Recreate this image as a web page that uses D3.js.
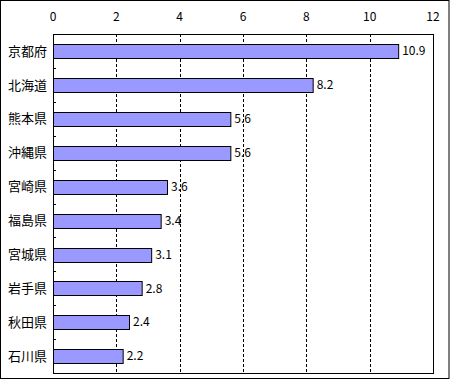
<!DOCTYPE html>
<html lang="ja">
<head>
  <meta charset="UTF-8">
  <title>都道府県別</title>
  <script src="https://d3js.org/d3.v7.min.js"></script>
  <style>
    body { margin: 0; background: white; }
    svg text { font-family: "Noto Sans CJK JP", sans-serif; font-size: 12px; fill: black; }
    svg text.cat { font-size: 13px; }
  </style>
</head>
<body>
  <svg id="chart" width="450" height="379"></svg>
  <script>
    const prefectures = ["京都府", "北海道", "熊本県", "沖縄県", "宮崎県", "福島県", "宮城県", "岩手県", "秋田県", "石川県"];
    const values = [10.9, 8.2, 5.6, 5.6, 3.6, 3.4, 3.1, 2.8, 2.4, 2.2];
    const xTicks = [0, 2, 4, 6, 8, 10, 12];

    const data = prefectures.map((p, i) => ({ name: p, value: values[i] }));

    const svg = d3.select("#chart");
    const width = +svg.attr("width");
    const height = +svg.attr("height");
    const margin = { top: 34, right: 16, bottom: 6, left: 53 };

    // outer frame
    svg.append("rect")
      .attr("x", 0.5).attr("y", 0.5)
      .attr("width", width - 1.5).attr("height", height - 1)
      .attr("fill", "white").attr("stroke", "black");

    const x = d3.scaleLinear()
      .domain([0, 12])
      .range([margin.left, width - margin.right - 1]);

    const y = d3.scaleBand()
      .domain(prefectures)
      .range([margin.top, height - margin.bottom])
      .paddingInner(0.6)
      .paddingOuter(0.3);

    const band = d3.scaleBand()
      .domain(prefectures)
      .range([margin.top, height - margin.bottom]);

    // dashed grid lines
    svg.append("g")
      .selectAll("line")
      .data(xTicks.filter(t => t > 0 && t < 12))
      .enter().append("line")
      .attr("x1", d => Math.round(x(d)) + 0.5)
      .attr("x2", d => Math.round(x(d)) + 0.5)
      .attr("y1", margin.top)
      .attr("y2", height - margin.bottom)
      .attr("stroke", "black")
      .attr("stroke-dasharray", "3,2");

    // top axis labels
    svg.append("g")
      .selectAll("text")
      .data(xTicks)
      .enter().append("text")
      .attr("x", d => x(d))
      .attr("y", 21)
      .attr("text-anchor", "middle")
      .text(d => d);

    // bars
    svg.append("g")
      .selectAll("rect")
      .data(data)
      .enter().append("rect")
      .attr("x", x(0) + 0.5)
      .attr("y", d => Math.round(y(d.name)) + 0.5)
      .attr("width", d => x(d.value) - x(0))
      .attr("height", Math.round(y.bandwidth()))
      .attr("fill", "#9999ff")
      .attr("stroke", "black");

    // value labels
    svg.append("g")
      .selectAll("text")
      .data(data)
      .enter().append("text")
      .attr("x", d => x(d.value) + 4)
      .attr("y", d => y(d.name) + y.bandwidth() / 2)
      .attr("dy", "0.36em")
      .text(d => d.value.toFixed(1));

    // category labels
    svg.append("g")
      .selectAll("text")
      .data(data)
      .enter().append("text")
      .attr("class", "cat")
      .attr("x", 47)
      .attr("y", d => y(d.name) + y.bandwidth() / 2)
      .attr("dy", "0.36em")
      .attr("text-anchor", "end")
      .text(d => d.name);

    // small inward ticks on category boundaries
    svg.append("g")
      .selectAll("line")
      .data(prefectures.slice(1))
      .enter().append("line")
      .attr("x1", margin.left)
      .attr("x2", margin.left + 3)
      .attr("y1", d => Math.round(band(d)) + 0.5)
      .attr("y2", d => Math.round(band(d)) + 0.5)
      .attr("stroke", "black");

    // plot frame
    svg.append("rect")
      .attr("x", margin.left + 0.5)
      .attr("y", margin.top + 0.5)
      .attr("width", x(12) - x(0))
      .attr("height", height - margin.bottom - margin.top)
      .attr("fill", "none")
      .attr("stroke", "black");
  </script>
</body>
</html>
